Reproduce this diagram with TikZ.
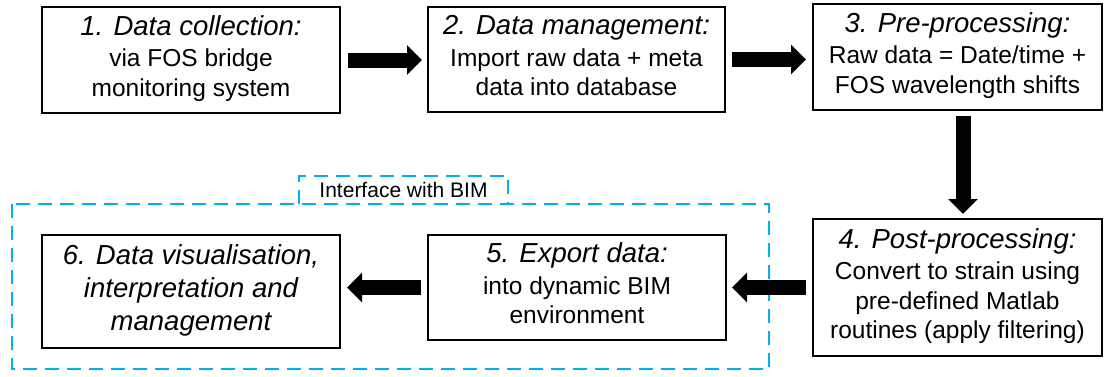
\documentclass[tikz,border=0pt]{standalone}
\usepackage{fontspec}
\setmainfont{Liberation Sans}
\usetikzlibrary{arrows.meta}
\definecolor{bimblue}{HTML}{00B0F0}
\newcommand{\hd}[1]{{\fontsize{27.5}{33}\selectfont\itshape #1}}
\newcommand{\steptext}[1]{\begin{tabular}{@{}c@{}}#1\end{tabular}}
\begin{document}
\begin{tikzpicture}[x=1pt,y=-1pt,
  stepbox/.style={draw=black, line width=2pt, inner sep=0pt,
    font=\fontsize{24.5}{29.5}\selectfont},
  blockarrow/.style={line width=15pt, -{Triangle[length=15pt,width=29pt]}},
  bimline/.style={draw=bimblue, line width=2.5pt, dash pattern=on 14pt off 8pt}]
\useasboundingbox (0,0) rectangle (1104,376);

% outer BIM frame and label
\draw[bimline] (12,204) rectangle (769,369);
\node[minimum width=209pt, minimum height=28pt, inner sep=0pt,
  font=\fontsize{21}{25}\selectfont] (lbl) at (403.5,190) {Interface with BIM};
\draw[bimline] (lbl.south west) -- (lbl.north west) -- (lbl.north east) -- (lbl.south east);

% steps
\node[stepbox, minimum width=298pt, minimum height=106pt] (b1) at (191,60)
  {\steptext{\hd{1. Data collection:}\\[2pt]via FOS bridge\\monitoring system}};
\node[stepbox, minimum width=297pt, minimum height=105pt] (b2) at (576.5,59.5)
  {\steptext{\hd{2. Data management:}\\[2pt]Import raw data + meta\\data into database}};
\node[stepbox, minimum width=289pt, minimum height=106pt] (b3) at (957.5,57)
  {\steptext{\hd{3. Pre-processing:}\\[2pt]Raw data = Date/time +\\FOS wavelength shifts}};
\node[stepbox, minimum width=289pt, minimum height=137pt] (b4) at (957.5,287.5)
  {\steptext{\hd{4. Post-processing:}\\[2pt]Convert to strain using\\pre-defined Matlab\\routines (apply filtering)}};
\node[stepbox, minimum width=298pt, minimum height=105pt] (b5) at (577,287.5)
  {\steptext{\hd{5. Export data:}\\[2pt]into dynamic BIM\\environment}};
\node[stepbox, minimum width=298pt, minimum height=113pt] (b6) at (191,291.5)
  {\steptext{\hd{6. Data visualisation,}\\[3.5pt]\hd{interpretation and}\\[3.5pt]\hd{management}}};

% connectors
\coordinate (a12) at ([xshift=-5pt]b2.west);
\coordinate (a23) at ([xshift=-6pt]b3.west);
\coordinate (a56) at ([xshift=6pt]b6.east);
\draw[blockarrow] ([xshift=7pt]b1.east) -- (a12 |- b1.east);
\draw[blockarrow] ([xshift=6pt]b2.east) -- (a23 |- b2.east);
\draw[blockarrow] ([xshift=5.5pt,yshift=-5pt]b3.south) -- ([xshift=5.5pt,yshift=4pt]b4.north);
\draw[blockarrow] ([xshift=-6pt]b4.west) -- ([xshift=5pt]b5.east);
\draw[blockarrow] ([xshift=-6pt]b5.west) -- (a56 |- b5.west);
\end{tikzpicture}
\end{document}
